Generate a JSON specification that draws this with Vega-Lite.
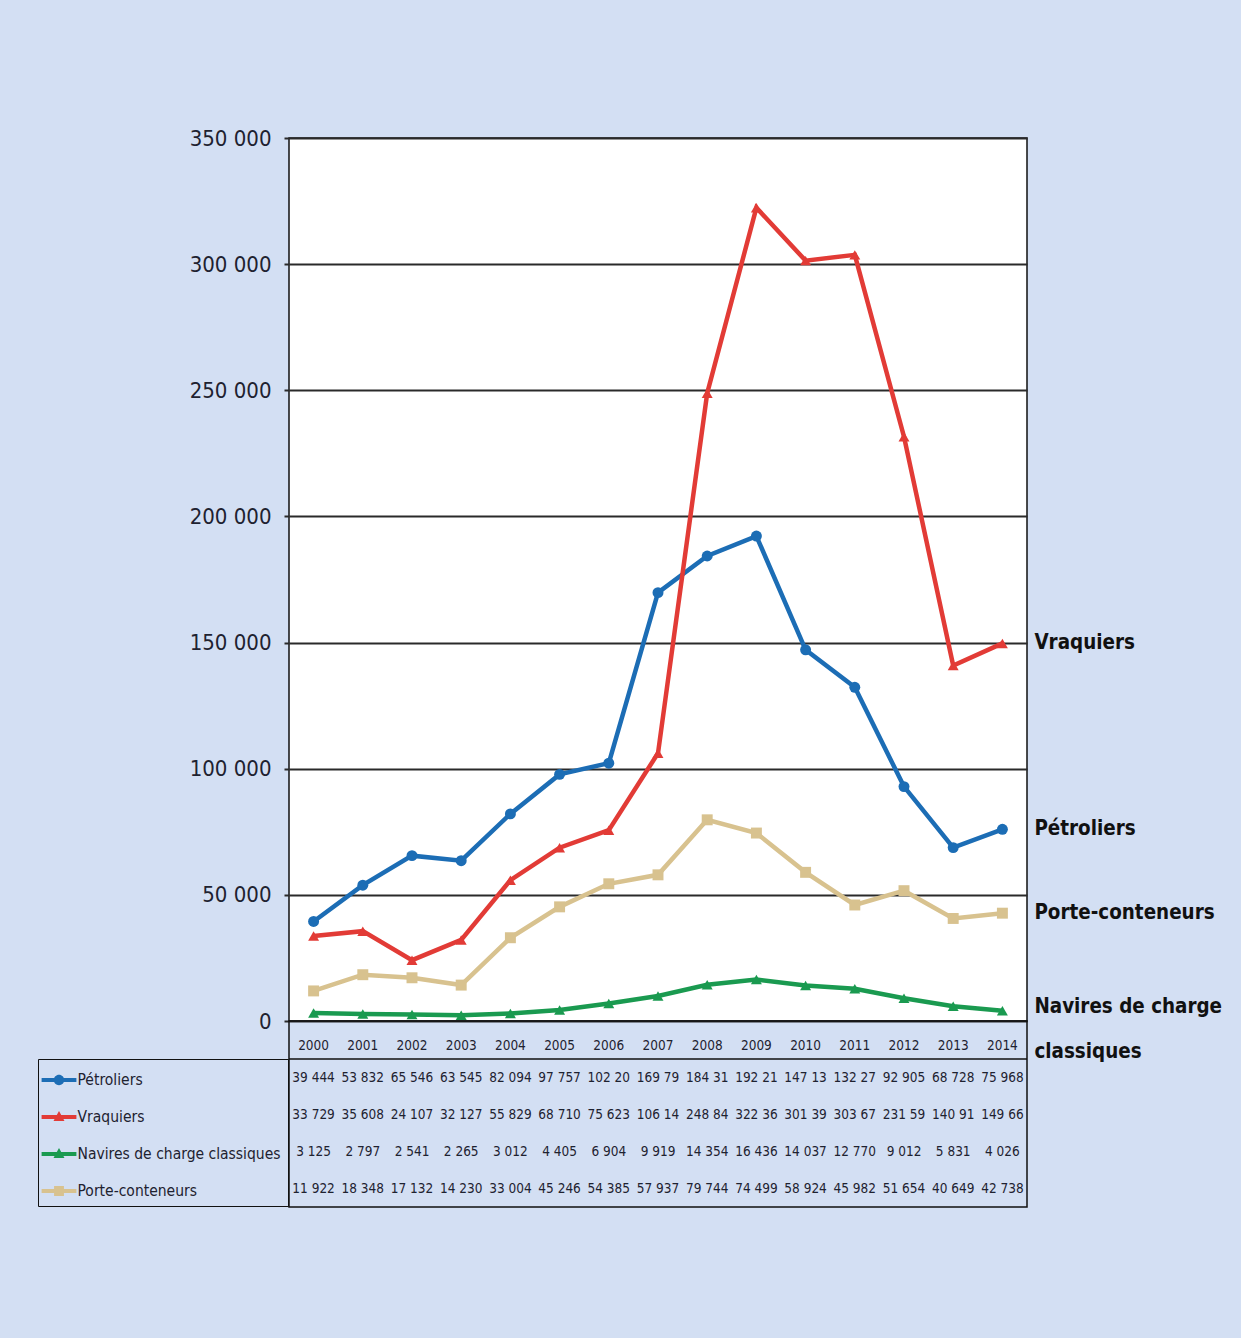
{
  "$schema": "https://vega.github.io/schema/vega-lite/v6.json",
  "background": "#d3dff3",
  "padding": {"left": 36, "top": 126, "right": 28, "bottom": 130},
  "spacing": 0,
  "bounds": "flush",
  "config": {
    "font": "DejaVu Sans Condensed, DejaVu Sans, sans-serif",
    "view": {"stroke": "#111", "strokeWidth": 1.5},
    "axis": {"labelFont": "DejaVu Sans Condensed, DejaVu Sans, sans-serif"},
    "legend": {"labelFont": "DejaVu Sans Condensed, DejaVu Sans, sans-serif"}
  },
  "resolve": {"scale": {"color": "independent", "shape": "independent"}},
  "datasets": {
    "d": [
      {"series": "Pétroliers", "year": 2000, "value": 39444, "txt": "39 444"},
      {"series": "Pétroliers", "year": 2001, "value": 53832, "txt": "53 832"},
      {"series": "Pétroliers", "year": 2002, "value": 65546, "txt": "65 546"},
      {"series": "Pétroliers", "year": 2003, "value": 63545, "txt": "63 545"},
      {"series": "Pétroliers", "year": 2004, "value": 82094, "txt": "82 094"},
      {"series": "Pétroliers", "year": 2005, "value": 97757, "txt": "97 757"},
      {"series": "Pétroliers", "year": 2006, "value": 102205, "txt": "102 20"},
      {"series": "Pétroliers", "year": 2007, "value": 169795, "txt": "169 79"},
      {"series": "Pétroliers", "year": 2008, "value": 184315, "txt": "184 31"},
      {"series": "Pétroliers", "year": 2009, "value": 192215, "txt": "192 21"},
      {"series": "Pétroliers", "year": 2010, "value": 147135, "txt": "147 13"},
      {"series": "Pétroliers", "year": 2011, "value": 132275, "txt": "132 27"},
      {"series": "Pétroliers", "year": 2012, "value": 92905, "txt": "92 905"},
      {"series": "Pétroliers", "year": 2013, "value": 68728, "txt": "68 728"},
      {"series": "Pétroliers", "year": 2014, "value": 75968, "txt": "75 968"},
      {"series": "Vraquiers", "year": 2000, "value": 33729, "txt": "33 729"},
      {"series": "Vraquiers", "year": 2001, "value": 35608, "txt": "35 608"},
      {"series": "Vraquiers", "year": 2002, "value": 24107, "txt": "24 107"},
      {"series": "Vraquiers", "year": 2003, "value": 32127, "txt": "32 127"},
      {"series": "Vraquiers", "year": 2004, "value": 55829, "txt": "55 829"},
      {"series": "Vraquiers", "year": 2005, "value": 68710, "txt": "68 710"},
      {"series": "Vraquiers", "year": 2006, "value": 75623, "txt": "75 623"},
      {"series": "Vraquiers", "year": 2007, "value": 106145, "txt": "106 14"},
      {"series": "Vraquiers", "year": 2008, "value": 248845, "txt": "248 84"},
      {"series": "Vraquiers", "year": 2009, "value": 322365, "txt": "322 36"},
      {"series": "Vraquiers", "year": 2010, "value": 301395, "txt": "301 39"},
      {"series": "Vraquiers", "year": 2011, "value": 303675, "txt": "303 67"},
      {"series": "Vraquiers", "year": 2012, "value": 231595, "txt": "231 59"},
      {"series": "Vraquiers", "year": 2013, "value": 140915, "txt": "140 91"},
      {"series": "Vraquiers", "year": 2014, "value": 149665, "txt": "149 66"},
      {"series": "Navires de charge classiques", "year": 2000, "value": 3125, "txt": "3 125"},
      {"series": "Navires de charge classiques", "year": 2001, "value": 2797, "txt": "2 797"},
      {"series": "Navires de charge classiques", "year": 2002, "value": 2541, "txt": "2 541"},
      {"series": "Navires de charge classiques", "year": 2003, "value": 2265, "txt": "2 265"},
      {"series": "Navires de charge classiques", "year": 2004, "value": 3012, "txt": "3 012"},
      {"series": "Navires de charge classiques", "year": 2005, "value": 4405, "txt": "4 405"},
      {"series": "Navires de charge classiques", "year": 2006, "value": 6904, "txt": "6 904"},
      {"series": "Navires de charge classiques", "year": 2007, "value": 9919, "txt": "9 919"},
      {"series": "Navires de charge classiques", "year": 2008, "value": 14354, "txt": "14 354"},
      {"series": "Navires de charge classiques", "year": 2009, "value": 16436, "txt": "16 436"},
      {"series": "Navires de charge classiques", "year": 2010, "value": 14037, "txt": "14 037"},
      {"series": "Navires de charge classiques", "year": 2011, "value": 12770, "txt": "12 770"},
      {"series": "Navires de charge classiques", "year": 2012, "value": 9012, "txt": "9 012"},
      {"series": "Navires de charge classiques", "year": 2013, "value": 5831, "txt": "5 831"},
      {"series": "Navires de charge classiques", "year": 2014, "value": 4026, "txt": "4 026"},
      {"series": "Porte-conteneurs", "year": 2000, "value": 11922, "txt": "11 922"},
      {"series": "Porte-conteneurs", "year": 2001, "value": 18348, "txt": "18 348"},
      {"series": "Porte-conteneurs", "year": 2002, "value": 17132, "txt": "17 132"},
      {"series": "Porte-conteneurs", "year": 2003, "value": 14230, "txt": "14 230"},
      {"series": "Porte-conteneurs", "year": 2004, "value": 33004, "txt": "33 004"},
      {"series": "Porte-conteneurs", "year": 2005, "value": 45246, "txt": "45 246"},
      {"series": "Porte-conteneurs", "year": 2006, "value": 54385, "txt": "54 385"},
      {"series": "Porte-conteneurs", "year": 2007, "value": 57937, "txt": "57 937"},
      {"series": "Porte-conteneurs", "year": 2008, "value": 79744, "txt": "79 744"},
      {"series": "Porte-conteneurs", "year": 2009, "value": 74499, "txt": "74 499"},
      {"series": "Porte-conteneurs", "year": 2010, "value": 58924, "txt": "58 924"},
      {"series": "Porte-conteneurs", "year": 2011, "value": 45982, "txt": "45 982"},
      {"series": "Porte-conteneurs", "year": 2012, "value": 51654, "txt": "51 654"},
      {"series": "Porte-conteneurs", "year": 2013, "value": 40649, "txt": "40 649"},
      {"series": "Porte-conteneurs", "year": 2014, "value": 42738, "txt": "42 738"}
    ]
  },
  "vconcat": [
    {
      "width": 738,
      "height": 883,
      "data": {"name": "d"},
      "view": {"fill": "white", "stroke": "#111", "strokeWidth": 1.5},
      "encoding": {
        "x": {"field": "year", "type": "ordinal", "scale": {"type": "point", "padding": 0.5}, "axis": null},
        "y": {
          "field": "value", "type": "quantitative",
          "scale": {"domain": [0, 350000], "nice": false},
          "axis": {
            "title": null,
            "values": [0, 50000, 100000, 150000, 200000, 250000, 300000, 350000],
            "format": ",d",
            "labelExpr": "replace(datum.label, ',', ' ')",
            "grid": true, "gridColor": "#2a2a2a", "gridWidth": 2, "gridOpacity": 1,
            "domain": false,
            "ticks": true, "tickSize": 5, "tickColor": "#2a2a2a", "tickWidth": 2,
            "labelFontSize": 22, "labelColor": "#1e2230", "labelPadding": 13
          }
        },
        "color": {
          "field": "series", "type": "nominal",
          "scale": {"domain": ["Pétroliers", "Vraquiers", "Navires de charge classiques", "Porte-conteneurs"], "range": ["#1c6db5", "#e23b36", "#1a9a50", "#d8c28f"]},
          "legend": null
        }
      },
      "layer": [
        {"mark": {"type": "line", "strokeWidth": 4.5}},
        {
          "mark": {"type": "point", "filled": true, "opacity": 1, "size": 120},
          "encoding": {
            "shape": {
              "field": "series", "type": "nominal",
              "scale": {"domain": ["Pétroliers", "Vraquiers", "Navires de charge classiques", "Porte-conteneurs"], "range": ["circle", "triangle-up", "triangle-up", "square"]},
              "legend": null
            }
          }
        },
        {
          "transform": [{"filter": "datum.year == 2014 && datum.series != 'Navires de charge classiques'"}],
          "mark": {"type": "text", "align": "left", "baseline": "middle", "dx": 32, "fontWeight": "bold", "fontSize": 20.4},
          "encoding": {"text": {"field": "series"}, "color": {"value": "#111"}}
        },
        {
          "transform": [{"filter": "datum.year == 2014 && datum.series == 'Navires de charge classiques'"}],
          "mark": {"type": "text", "align": "left", "baseline": "middle", "dx": 32, "dy": -4, "lineHeight": 45, "fontWeight": "bold", "fontSize": 20.4},
          "encoding": {"text": {"value": ["Navires de charge", "classiques"]}, "color": {"value": "#111"}}
        }
      ]
    },
    {
      "width": 738,
      "height": 186,
      "data": {"name": "d"},
      "view": {"fill": null, "stroke": "#111", "strokeWidth": 1.5},
      "encoding": {
        "x": {
          "field": "year", "type": "ordinal",
          "scale": {"type": "band", "paddingInner": 0, "paddingOuter": 0},
          "axis": {"orient": "top", "domain": false, "ticks": false, "tickSize": 0, "labelPadding": -31, "labelBaseline": "bottom", "minExtent": 0, "maxExtent": 0, "labelAngle": 0, "labelFontSize": 13.5, "labelColor": "#1e2230", "title": null}
        },
        "y": {
          "field": "series", "type": "nominal",
          "scale": {"domain": ["Pétroliers", "Vraquiers", "Navires de charge classiques", "Porte-conteneurs"], "range": [38, 186], "paddingInner": 0, "paddingOuter": 0},
          "axis": null
        }
      },
      "layer": [
        {
          "mark": {"type": "text", "fontSize": 13.5, "baseline": "middle"},
          "encoding": {"text": {"field": "txt"}, "color": {"value": "#1e2230"}}
        },
        {
          "data": {"values": [{}]},
          "mark": {"type": "rule", "color": "#111", "strokeWidth": 1.5},
          "encoding": {"y": {"datum": "Pétroliers", "type": "nominal", "bandPosition": 0}, "x": null}
        },
        {
          "mark": {"type": "point", "filled": true, "opacity": 0},
          "encoding": {
            "color": {
              "field": "series", "type": "nominal",
              "scale": {"domain": ["Pétroliers", "Vraquiers", "Navires de charge classiques", "Porte-conteneurs"], "range": ["#1c6db5", "#e23b36", "#1a9a50", "#d8c28f"]},
              "legend": {"orient": "none", "legendX": -251, "legendY": 38, "title": null, "strokeColor": "#111", "padding": 6.5, "symbolOpacity": 1, "symbolSize": 841, "symbolStrokeWidth": 0, "labelFontSize": 15.5, "labelLimit": 400, "labelColor": "#1e2230", "labelOffset": 4, "rowPadding": 14}
            },
            "shape": {
              "field": "series", "type": "nominal",
              "scale": {"domain": ["Pétroliers", "Vraquiers", "Navires de charge classiques", "Porte-conteneurs"], "range": [
                "M-1.2,-0.14H1.2V0.14H-1.2Z M0.36,0 A0.36,0.36 0 1,1 -0.36,0 A0.36,0.36 0 1,1 0.36,0Z",
                "M-1.2,-0.14H1.2V0.14H-1.2Z M0,-0.42 L0.38,0.28 L-0.38,0.28Z",
                "M-1.2,-0.14H1.2V0.14H-1.2Z M0,-0.42 L0.38,0.28 L-0.38,0.28Z",
                "M-1.2,-0.14H1.2V0.14H-1.2Z M-0.34,-0.34H0.34V0.34H-0.34Z"
              ]},
              "legend": {"orient": "none", "legendX": -251, "legendY": 38, "title": null, "strokeColor": "#111", "padding": 6.5, "symbolOpacity": 1, "symbolSize": 841, "symbolStrokeWidth": 0, "labelFontSize": 15.5, "labelLimit": 400, "labelColor": "#1e2230", "labelOffset": 4, "rowPadding": 14}
            }
          }
        }
      ]
    }
  ]
}
